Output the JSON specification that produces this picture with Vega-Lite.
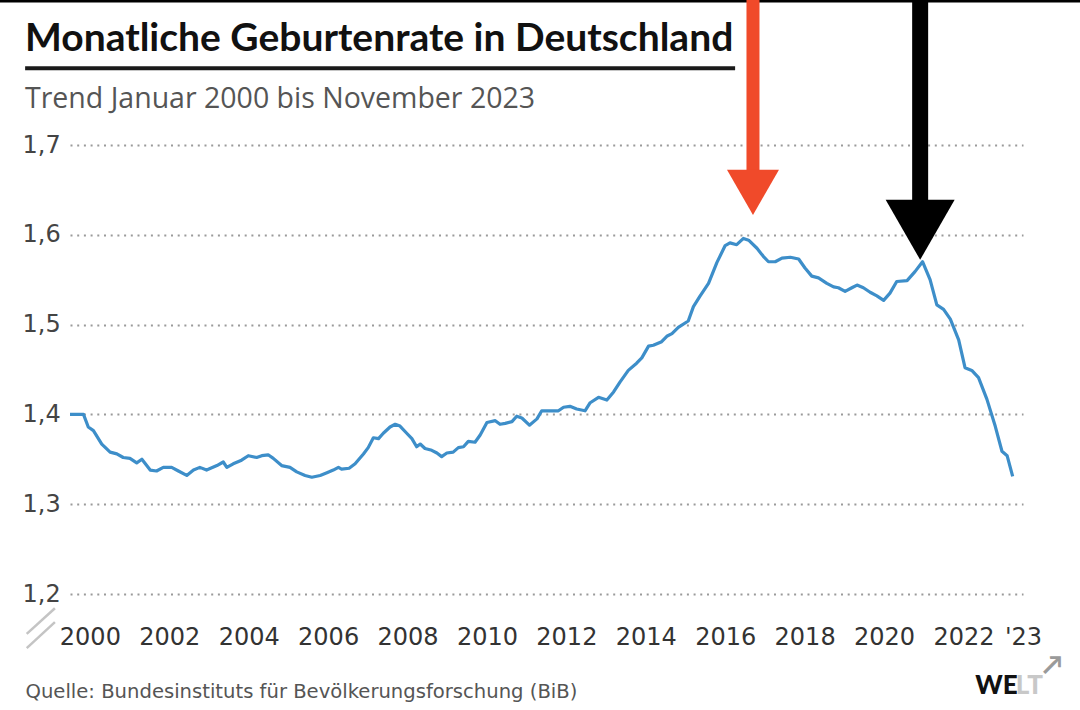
{
  "$schema": "https://vega.github.io/schema/vega-lite/v6.json",
  "width": 953,
  "height": 449,
  "autosize": "none",
  "padding": {"left": 70, "top": 145, "right": 57, "bottom": 116},
  "background": "#ffffff",
  "title": {
    "text": "Monatliche Geburtenrate in Deutschland",
    "subtitle": "Trend Januar 2000 bis November 2023",
    "anchor": "start",
    "frame": "group",
    "dx": -45,
    "dy": 140,
    "offset": 18,
    "font": "Lato",
    "fontSize": 39,
    "fontWeight": "bold",
    "color": "#111111",
    "subtitleFont": "Open Sans",
    "subtitleFontSize": 28.5,
    "subtitleColor": "#555555",
    "subtitlePadding": 26
  },
  "datasets": {
    "birth": [
      {"x": 2000.00, "y": 1.400}, {"x": 2000.34, "y": 1.400}, {"x": 2000.46, "y": 1.386}, {"x": 2000.59, "y": 1.382},
      {"x": 2000.80, "y": 1.367}, {"x": 2001.01, "y": 1.358}, {"x": 2001.18, "y": 1.356}, {"x": 2001.34, "y": 1.352},
      {"x": 2001.51, "y": 1.351}, {"x": 2001.68, "y": 1.346}, {"x": 2001.81, "y": 1.350}, {"x": 2002.02, "y": 1.338},
      {"x": 2002.18, "y": 1.337}, {"x": 2002.35, "y": 1.341}, {"x": 2002.56, "y": 1.341}, {"x": 2002.73, "y": 1.337},
      {"x": 2002.94, "y": 1.332}, {"x": 2003.11, "y": 1.338}, {"x": 2003.27, "y": 1.341}, {"x": 2003.44, "y": 1.338},
      {"x": 2003.70, "y": 1.343}, {"x": 2003.86, "y": 1.347}, {"x": 2003.95, "y": 1.341}, {"x": 2004.11, "y": 1.345},
      {"x": 2004.32, "y": 1.349}, {"x": 2004.49, "y": 1.354}, {"x": 2004.70, "y": 1.352}, {"x": 2004.83, "y": 1.354},
      {"x": 2004.99, "y": 1.355}, {"x": 2005.12, "y": 1.351}, {"x": 2005.33, "y": 1.343}, {"x": 2005.54, "y": 1.341},
      {"x": 2005.71, "y": 1.336}, {"x": 2005.92, "y": 1.332}, {"x": 2006.09, "y": 1.330}, {"x": 2006.30, "y": 1.332},
      {"x": 2006.47, "y": 1.335}, {"x": 2006.63, "y": 1.338}, {"x": 2006.76, "y": 1.341}, {"x": 2006.84, "y": 1.339},
      {"x": 2007.03, "y": 1.340}, {"x": 2007.18, "y": 1.345}, {"x": 2007.39, "y": 1.356}, {"x": 2007.51, "y": 1.363},
      {"x": 2007.64, "y": 1.374}, {"x": 2007.77, "y": 1.373}, {"x": 2007.89, "y": 1.379}, {"x": 2008.06, "y": 1.386},
      {"x": 2008.19, "y": 1.389}, {"x": 2008.31, "y": 1.387}, {"x": 2008.48, "y": 1.379}, {"x": 2008.61, "y": 1.373},
      {"x": 2008.73, "y": 1.364}, {"x": 2008.82, "y": 1.367}, {"x": 2008.94, "y": 1.362}, {"x": 2009.11, "y": 1.360},
      {"x": 2009.24, "y": 1.357}, {"x": 2009.36, "y": 1.353}, {"x": 2009.49, "y": 1.357}, {"x": 2009.65, "y": 1.358},
      {"x": 2009.78, "y": 1.363}, {"x": 2009.91, "y": 1.364}, {"x": 2010.03, "y": 1.370}, {"x": 2010.20, "y": 1.369},
      {"x": 2010.33, "y": 1.377}, {"x": 2010.50, "y": 1.391}, {"x": 2010.71, "y": 1.393}, {"x": 2010.83, "y": 1.389},
      {"x": 2010.96, "y": 1.390}, {"x": 2011.13, "y": 1.392}, {"x": 2011.25, "y": 1.398}, {"x": 2011.38, "y": 1.396},
      {"x": 2011.57, "y": 1.388}, {"x": 2011.76, "y": 1.395}, {"x": 2011.88, "y": 1.404}, {"x": 2012.05, "y": 1.404},
      {"x": 2012.17, "y": 1.404}, {"x": 2012.30, "y": 1.404}, {"x": 2012.43, "y": 1.408}, {"x": 2012.59, "y": 1.409},
      {"x": 2012.76, "y": 1.406}, {"x": 2012.97, "y": 1.404}, {"x": 2013.10, "y": 1.413}, {"x": 2013.31, "y": 1.419},
      {"x": 2013.52, "y": 1.416}, {"x": 2013.69, "y": 1.425}, {"x": 2013.85, "y": 1.436}, {"x": 2014.06, "y": 1.449},
      {"x": 2014.27, "y": 1.457}, {"x": 2014.40, "y": 1.463}, {"x": 2014.57, "y": 1.476}, {"x": 2014.69, "y": 1.477},
      {"x": 2014.90, "y": 1.481}, {"x": 2015.03, "y": 1.487}, {"x": 2015.16, "y": 1.490}, {"x": 2015.32, "y": 1.497},
      {"x": 2015.57, "y": 1.504}, {"x": 2015.70, "y": 1.520}, {"x": 2015.87, "y": 1.532}, {"x": 2016.08, "y": 1.546},
      {"x": 2016.29, "y": 1.569}, {"x": 2016.50, "y": 1.588}, {"x": 2016.62, "y": 1.591}, {"x": 2016.79, "y": 1.589},
      {"x": 2016.96, "y": 1.596}, {"x": 2017.09, "y": 1.594}, {"x": 2017.30, "y": 1.585}, {"x": 2017.46, "y": 1.576},
      {"x": 2017.59, "y": 1.570}, {"x": 2017.76, "y": 1.570}, {"x": 2017.93, "y": 1.574}, {"x": 2018.14, "y": 1.575},
      {"x": 2018.35, "y": 1.573}, {"x": 2018.51, "y": 1.563}, {"x": 2018.68, "y": 1.554}, {"x": 2018.85, "y": 1.552},
      {"x": 2019.06, "y": 1.546}, {"x": 2019.23, "y": 1.542}, {"x": 2019.35, "y": 1.541}, {"x": 2019.52, "y": 1.537},
      {"x": 2019.69, "y": 1.541}, {"x": 2019.82, "y": 1.544}, {"x": 2019.98, "y": 1.541}, {"x": 2020.15, "y": 1.536},
      {"x": 2020.32, "y": 1.532}, {"x": 2020.49, "y": 1.527}, {"x": 2020.65, "y": 1.535}, {"x": 2020.82, "y": 1.548},
      {"x": 2021.08, "y": 1.549}, {"x": 2021.28, "y": 1.559}, {"x": 2021.47, "y": 1.570}, {"x": 2021.66, "y": 1.550},
      {"x": 2021.83, "y": 1.522}, {"x": 2022.00, "y": 1.517}, {"x": 2022.17, "y": 1.506}, {"x": 2022.38, "y": 1.483},
      {"x": 2022.54, "y": 1.452}, {"x": 2022.71, "y": 1.449}, {"x": 2022.88, "y": 1.441}, {"x": 2023.09, "y": 1.417},
      {"x": 2023.30, "y": 1.387}, {"x": 2023.47, "y": 1.359}, {"x": 2023.60, "y": 1.354}, {"x": 2023.74, "y": 1.331}
    ],
    "strokes": [
      {"x": 1998.0, "x2": 2026.0, "y": 1.861, "y2": 1.861, "col": "#000000", "w": 4},
      {"x": 1998.87, "x2": 2016.75, "y": 1.7856, "y2": 1.7856, "col": "#1a1a1a", "w": 4},
      {"x": 1998.91, "x2": 1999.62, "y": 1.1556, "y2": 1.1841, "col": "#c4c4c4", "w": 2.5},
      {"x": 1998.91, "x2": 1999.62, "y": 1.1397, "y2": 1.1686, "col": "#c4c4c4", "w": 2.5},
      {"x": 2017.20, "x2": 2017.20, "y": 1.862, "y2": 1.668, "col": "#f04a2a", "w": 13},
      {"x": 2021.41, "x2": 2021.41, "y": 1.862, "y2": 1.635, "col": "#000000", "w": 16}
    ],
    "heads": [
      {"x": 2017.20, "y": 1.6472, "col": "#f04a2a", "s": 2704},
      {"x": 2021.41, "y": 1.6056, "col": "#000000", "s": 4761}
    ],
    "logo": [
      {"x": 2022.80, "y": 1.097, "label": "WE", "col": "#111111"},
      {"x": 2023.82, "y": 1.097, "label": "LT", "col": "#c8c8c8"},
      {"x": 2024.50, "y": 1.120, "label": "↗", "col": "#9a9a9a"}
    ]
  },
  "encoding": {
    "x": {
      "field": "x",
      "type": "quantitative",
      "scale": {"domain": [2000, 2024], "nice": false, "zero": false},
      "axis": {
        "values": [2000.5, 2002.5, 2004.5, 2006.5, 2008.5, 2010.5, 2012.5, 2014.5, 2016.5, 2018.5, 2020.5, 2022.5, 2024],
        "labelExpr": "datum.value == 2024 ? \"'23\" : '' + floor(datum.value)",
        "grid": false,
        "ticks": false,
        "domain": false,
        "labelFlush": false,
        "labelOverlap": false,
        "labelPadding": 31,
        "labelFont": "DejaVu Sans",
        "labelFontSize": 24,
        "labelColor": "#333333",
        "title": "Quelle: Bundesinstituts für Bevölkerungsforschung (BiB)",
        "titleFont": "DejaVu Sans",
        "titleFontSize": 19.6,
        "titleFontWeight": "normal",
        "titleColor": "#555555",
        "titleAnchor": "start",
        "titleAlign": "left",
        "titleBaseline": "alphabetic",
        "titleX": -45,
        "titleY": 103
      }
    },
    "y": {
      "field": "y",
      "type": "quantitative",
      "scale": {"domain": [1.2, 1.7], "nice": false, "zero": false},
      "axis": {
        "values": [1.2, 1.3, 1.4, 1.5, 1.6, 1.7],
        "labelExpr": "replace(format(datum.value, '.1f'), '.', ',')",
        "grid": true,
        "gridDash": [2, 4.7],
        "gridWidth": 2,
        "gridColor": "#9a9a9a",
        "ticks": false,
        "domain": false,
        "labelAlign": "left",
        "labelPadding": 48,
        "labelFont": "DejaVu Sans",
        "labelFontSize": 24,
        "labelColor": "#444444",
        "title": null
      }
    }
  },
  "layer": [
    {
      "data": {"name": "birth"},
      "mark": {"type": "line", "color": "#3d8ec9", "strokeWidth": 3.2, "strokeJoin": "round"}
    },
    {
      "data": {"name": "strokes"},
      "mark": {"type": "rule", "strokeCap": "butt"},
      "encoding": {
        "x2": {"field": "x2"},
        "y2": {"field": "y2"},
        "color": {"field": "col", "type": "nominal", "scale": null},
        "strokeWidth": {"field": "w", "type": "quantitative", "scale": null}
      }
    },
    {
      "data": {"name": "heads"},
      "mark": {"type": "point", "filled": true, "opacity": 1, "shape": "M-1,-0.87L1,-0.87L0,0.87Z"},
      "encoding": {
        "color": {"field": "col", "type": "nominal", "scale": null},
        "size": {"field": "s", "type": "quantitative", "scale": null}
      }
    },
    {
      "data": {"name": "logo"},
      "mark": {"type": "text", "align": "left", "baseline": "middle", "font": "Lato", "fontSize": 26, "fontWeight": 900},
      "encoding": {
        "text": {"field": "label"},
        "color": {"field": "col", "type": "nominal", "scale": null}
      }
    }
  ],
  "config": {
    "view": {"stroke": null}
  }
}
